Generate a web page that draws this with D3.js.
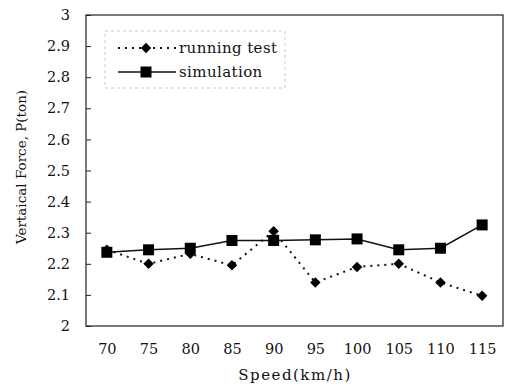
<!DOCTYPE html>
<html>
<head>
<meta charset="utf-8">
<script src="https://cdn.jsdelivr.net/npm/d3@7"></script>
<style>
  html, body { margin: 0; padding: 0; background: #fff; }
  svg { display: block; }
  svg text { font-family: "DejaVu Serif", serif; fill: #111; }
</style>
</head>
<body>
<svg id="chart" width="508" height="387"></svg>
<script>
// Vertical force vs. speed: measured vs. simulated
const speeds = ["70", "75", "80", "85", "90", "95", "100", "105", "110", "115"];
const runningTest = [2.245, 2.2, 2.232, 2.195, 2.305, 2.14, 2.19, 2.2, 2.14, 2.097];
const simulation = [2.237, 2.245, 2.25, 2.275, 2.275, 2.277, 2.28, 2.245, 2.25, 2.325];
const yTicks = [2, 2.1, 2.2, 2.3, 2.4, 2.5, 2.6, 2.7, 2.8, 2.9, 3];
const yTickLabels = ["2", "2.1", "2.2", "2.3", "2.4", "2.5", "2.6", "2.7", "2.8", "2.9", "3"];
const seriesNames = ["running test", "simulation"];

const FONT = "'DejaVu Serif', serif";
const svg = d3.select("#chart");
const plotL = 86, plotR = 503, plotT = 15, plotB = 326;

const x = d3.scalePoint().domain(speeds).range([plotL, plotR]).padding(0.5);
const y = d3.scaleLinear().domain([2, 3]).range([plotB, plotT]);

// plot frame
svg.append("rect")
  .attr("x", plotL).attr("y", plotT)
  .attr("width", plotR - plotL).attr("height", plotB - plotT)
  .attr("fill", "none").attr("stroke", "#222").attr("stroke-width", 1.2);

// y axis (ticks point inward)
const yAxis = d3.axisLeft(y)
  .tickValues(yTicks)
  .tickFormat((d, i) => yTickLabels[i])
  .tickSizeInner(-5).tickSizeOuter(0).tickPadding(16);
const gy = svg.append("g").attr("transform", `translate(${plotL},0)`).call(yAxis);
gy.attr("font-family", null);
gy.select(".domain").remove();
gy.selectAll("line").attr("stroke", "#222");
gy.selectAll("text").style("font-family", FONT).style("font-size", "14.5px").attr("fill", "#111");

// x axis
const xAxis = d3.axisBottom(x).tickSize(0).tickPadding(18);
const gx = svg.append("g").attr("transform", `translate(0,${plotB})`).call(xAxis);
gx.attr("font-family", null);
gx.select(".domain").remove();
gx.selectAll("text").style("font-family", FONT).style("font-size", "14.5px").attr("fill", "#111");

// axis titles
svg.append("text")
  .attr("x", 295).attr("y", 380)
  .attr("text-anchor", "middle")
  .style("font-family", FONT).style("font-size", "15px")
  .style("letter-spacing", "1.5px")
  .text("Speed(km/h)");

svg.append("text")
  .attr("transform", "translate(26,167) rotate(-90)")
  .attr("text-anchor", "middle")
  .style("font-family", FONT).style("font-size", "13.5px")
  .text("Vertaical Force, P(ton)");

const line = d3.line().x((d, i) => x(speeds[i])).y(d => y(d));

// running test: dotted line with diamonds
svg.append("path").datum(runningTest)
  .attr("d", line)
  .attr("fill", "none").attr("stroke", "#111")
  .attr("stroke-width", 2).attr("stroke-dasharray", "2,5");

const diamond = d3.symbol().type(d3.symbolDiamond2).size(70);
svg.selectAll(".rt").data(runningTest).join("path")
  .attr("class", "rt")
  .attr("transform", (d, i) => `translate(${x(speeds[i])},${y(d)})`)
  .attr("d", diamond).attr("fill", "#000");

// simulation: solid line with squares
svg.append("path").datum(simulation)
  .attr("d", line)
  .attr("fill", "none").attr("stroke", "#111").attr("stroke-width", 1.5);

const sq = 11;
svg.selectAll(".sim").data(simulation).join("rect")
  .attr("class", "sim")
  .attr("x", (d, i) => x(speeds[i]) - sq / 2)
  .attr("y", d => y(d) - sq / 2)
  .attr("width", sq).attr("height", sq)
  .attr("fill", "#000");

// legend
const lg = svg.append("g");
lg.append("rect")
  .attr("x", 105).attr("y", 31).attr("width", 180).attr("height", 57)
  .attr("fill", "#fff").attr("stroke", "#bbb").attr("stroke-width", 0.8)
  .attr("stroke-dasharray", "3,3");

const rows = [48, 72];
lg.append("line").attr("x1", 118).attr("x2", 176).attr("y1", rows[0]).attr("y2", rows[0])
  .attr("stroke", "#111").attr("stroke-width", 2).attr("stroke-dasharray", "2,5");
lg.append("path").attr("transform", `translate(146,${rows[0]})`).attr("d", diamond).attr("fill", "#000");
lg.append("line").attr("x1", 118).attr("x2", 176).attr("y1", rows[1]).attr("y2", rows[1])
  .attr("stroke", "#111").attr("stroke-width", 1.5);
lg.append("rect").attr("x", 146 - sq / 2).attr("y", rows[1] - sq / 2)
  .attr("width", sq).attr("height", sq).attr("fill", "#000");

lg.selectAll(".lt").data(seriesNames).join("text")
  .attr("class", "lt")
  .attr("x", 179).attr("y", (d, i) => rows[i] + 5)
  .style("font-family", FONT).style("font-size", "15px")
  .style("letter-spacing", "0.4px")
  .text(d => d);
</script>
</body>
</html>
